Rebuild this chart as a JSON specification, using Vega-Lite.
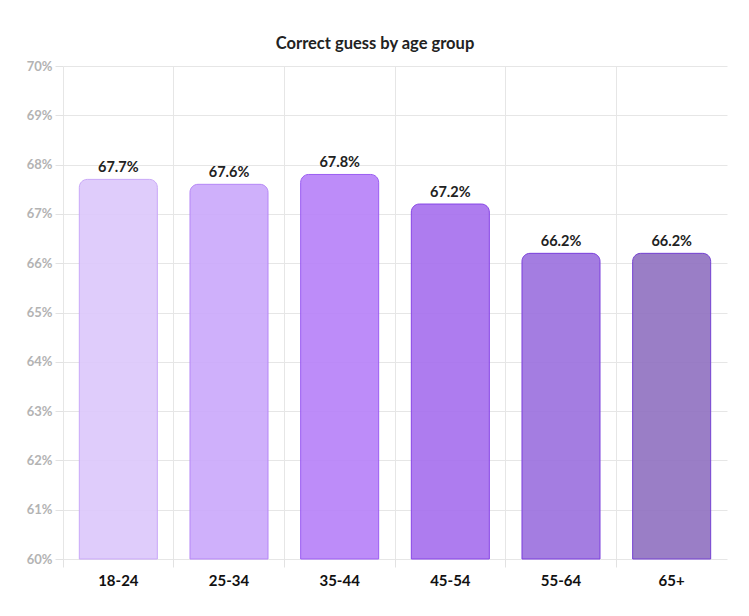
{
  "$schema": "https://vega.github.io/schema/vega-lite/v6.json",
  "width": 664,
  "height": 493,
  "autosize": {"type": "none"},
  "padding": {"left": 63, "top": 66, "right": 22, "bottom": 57},
  "background": "white",
  "title": {
    "text": "Correct guess by age group",
    "font": "Lato",
    "fontSize": 16.5,
    "fontWeight": "bold",
    "color": "#222222",
    "offset": 8,
    "dx": -20
  },
  "config": {
    "view": {"stroke": null},
    "font": "Lato"
  },
  "data": {
    "values": [
      {"age": "18-24", "value": 67.7, "base": 60, "label": "67.7%"},
      {"age": "25-34", "value": 67.6, "base": 60, "label": "67.6%"},
      {"age": "35-44", "value": 67.8, "base": 60, "label": "67.8%"},
      {"age": "45-54", "value": 67.2, "base": 60, "label": "67.2%"},
      {"age": "55-64", "value": 66.2, "base": 60, "label": "66.2%"},
      {"age": "65+", "value": 66.2, "base": 60, "label": "66.2%"}
    ]
  },
  "encoding": {
    "x": {
      "field": "age",
      "type": "nominal",
      "sort": null,
      "scale": {"paddingInner": 0, "paddingOuter": 0},
      "axis": {
        "title": null,
        "labelAngle": 0,
        "labelFont": "Lato",
        "labelFontSize": 15,
        "labelFontWeight": "bold",
        "labelColor": "#111111",
        "labelPadding": 6,
        "tickSize": 8,
        "tickColor": "#e2e2e2",
        "bandPosition": 0,
        "grid": true,
        "gridColor": "#e6e6e6",
        "domain": false
      }
    },
    "y": {
      "field": "value",
      "type": "quantitative",
      "scale": {"domain": [60, 70], "nice": false, "zero": false},
      "axis": {
        "title": null,
        "values": [60, 61, 62, 63, 64, 65, 66, 67, 68, 69, 70],
        "labelExpr": "datum.value + '%'",
        "labelFont": "Lato",
        "labelFontSize": 13,
        "labelFontWeight": "bold",
        "labelColor": "#b3b3b3",
        "labelPadding": 3,
        "tickSize": 8,
        "tickColor": "#e2e2e2",
        "gridColor": "#e6e6e6",
        "domain": false
      }
    }
  },
  "layer": [
    {
      "mark": {
        "type": "bar",
        "width": {"band": 0.705},
        "cornerRadiusTopLeft": 8,
        "cornerRadiusTopRight": 8,
        "strokeWidth": 1,
        "fillOpacity": 0.92
      },
      "encoding": {
        "y2": {"field": "base"},
        "fill": {
          "field": "age",
          "type": "nominal",
          "legend": null,
          "scale": {
            "domain": ["18-24", "25-34", "35-44", "45-54", "55-64", "65+"],
            "range": ["#dcc8fb", "#cba9fb", "#b782f8", "#a771ee", "#9c72de", "#9173c1"]
          }
        },
        "stroke": {
          "field": "age",
          "type": "nominal",
          "legend": null,
          "scale": {
            "domain": ["18-24", "25-34", "35-44", "45-54", "55-64", "65+"],
            "range": ["#c9a8f8", "#b586f6", "#9a5cf2", "#8644e6", "#7a3fdc", "#7440d2"]
          }
        }
      }
    },
    {
      "mark": {
        "type": "text",
        "baseline": "bottom",
        "dy": -4,
        "font": "Lato",
        "fontSize": 14.5,
        "fontWeight": "bold",
        "color": "#222222"
      },
      "encoding": {
        "text": {"field": "label", "type": "nominal"}
      }
    }
  ]
}
